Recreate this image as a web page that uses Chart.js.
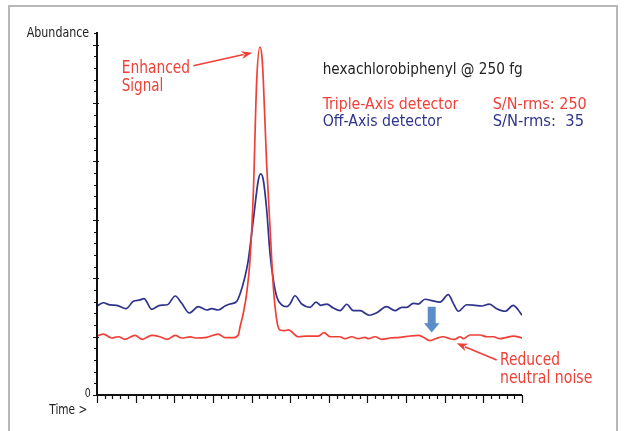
<!DOCTYPE html>
<html>
<head>
<meta charset="utf-8">
<script src="https://cdn.jsdelivr.net/npm/chart.js@4"></script>
<style>
  html, body { margin: 0; padding: 0; background: #fff; }
  canvas { display: block; }
</style>
</head>
<body>
<canvas id="chart" width="627" height="431"></canvas>
<script>
// Chromatogram data (time in minor tick units, abundance in y tick units)
const redTime = [0,0.82,1.90,2.76,3.62,4.92,5.86,7.08,8.15,9.10,10.13,10.96,12.04,12.90,14.20,15.70,16.57,17.64,18.29,18.51,18.93,19.37,19.80,20.23,20.67,21.09,21.35,21.52,21.96,22.39,22.82,23.26,23.68,24.33,24.76,26.05,27.14,28.64,29.38,30.15,31.45,32.10,32.96,33.82,34.69,35.11,35.98,36.85,37.92,39.21,40.51,41.58,42.23,43.10,43.96,44.82,45.68,46.33,46.98,47.40,48.27,49.57,50.43,51.29,52.15,53.02,53.88,54.74,55];
const redAbundance = [5.05,5.22,4.88,4.99,4.77,5.11,4.77,5.11,4.99,4.77,5.11,4.88,4.97,4.88,4.94,5.22,4.91,4.91,5.14,5.82,7.00,8.71,11.56,17.27,26.98,29.80,28.95,26.98,19.70,14.39,9.25,6.42,5.57,5.51,5.57,4.99,5.05,5.05,5.34,4.99,4.99,4.82,4.99,4.82,4.94,4.82,4.99,4.77,4.88,4.94,5.05,5.11,4.94,4.65,4.86,4.99,4.82,4.77,4.99,4.82,5.14,5.14,4.99,4.99,4.82,4.94,5.05,4.94,4.88];

const blueTime = [0,0.82,1.68,2.55,3.75,4.70,5.56,6.08,7.08,8.15,9.10,10.13,10.96,11.95,13.11,14.20,14.84,15.70,16.57,17.21,18.08,18.51,19.15,19.58,20.23,20.88,21.19,21.52,21.96,22.39,22.82,23.26,23.90,24.55,24.98,25.62,26.49,27.57,28.34,28.95,29.73,30.58,31.45,32.32,33.17,34.04,35.24,36.20,37.49,38.57,39.43,40.08,40.93,41.58,42.45,43.32,44.39,45.46,46.11,46.76,47.85,48.92,49.79,50.77,51.73,52.80,53.88,54.52,55];
const blueAbundance = [7.62,7.90,7.71,7.68,7.39,8.02,8.14,8.25,7.34,7.68,7.73,8.48,7.85,7.02,7.56,7.28,7.39,7.28,7.62,7.79,8.02,8.65,10.13,11.56,14.99,18.41,18.93,18.41,15.84,12.13,9.85,8.42,7.71,7.56,7.79,8.50,7.79,7.51,7.96,7.68,7.79,7.45,7.22,7.77,7.22,7.22,6.83,7.05,7.56,7.22,7.51,7.51,7.85,7.79,8.20,8.08,7.96,8.59,7.85,7.17,7.73,7.68,7.62,7.79,7.39,7.17,7.68,7.28,6.83];

const seriesNames = ['Triple-Axis detector', 'Off-Axis detector'];
const snLabels = ['S/N-rms: 250', 'S/N-rms:  35'];
const yTickLabels = ['0'];
const title = 'hexachlorobiphenyl @ 250 fg';

const RED = '#ef4038';
const BLUE = '#2e348c';
const FONT = '"Liberation Sans Narrow", "DejaVu Sans Condensed", "Liberation Sans", sans-serif';

// draw text stretched to a target width
function fitText(ctx, text, x, y, width, size, color) {
  ctx.save();
  ctx.font = size + 'px ' + FONT;
  ctx.fillStyle = color;
  ctx.textBaseline = 'alphabetic';
  ctx.textAlign = 'left';
  const w = ctx.measureText(text).width;
  ctx.translate(x, y);
  ctx.scale(width / w, 1);
  ctx.fillText(text, 0, 0);
  ctx.restore();
}

function arrow(ctx, x1, y1, x2, y2, color) {
  const a = Math.atan2(y2 - y1, x2 - x1);
  const len = 11, half = 4;
  ctx.save();
  ctx.strokeStyle = color;
  ctx.fillStyle = color;
  ctx.lineWidth = 1.6;
  ctx.beginPath();
  ctx.moveTo(x1, y1);
  ctx.lineTo(x2 - Math.cos(a) * len * 0.8, y2 - Math.sin(a) * len * 0.8);
  ctx.stroke();
  ctx.beginPath();
  ctx.moveTo(x2, y2);
  ctx.lineTo(x2 - Math.cos(a) * len - Math.sin(a) * half, y2 - Math.sin(a) * len + Math.cos(a) * half);
  ctx.lineTo(x2 - Math.cos(a) * len * 0.7, y2 - Math.sin(a) * len * 0.7);
  ctx.lineTo(x2 - Math.cos(a) * len + Math.sin(a) * half, y2 - Math.sin(a) * len - Math.cos(a) * half);
  ctx.closePath();
  ctx.fill();
  ctx.restore();
}

const decor = {
  id: 'decor',
  beforeDraw(chart) {
    const ctx = chart.ctx;
    ctx.save();
    ctx.fillStyle = '#fff';
    ctx.fillRect(0, 0, chart.width, chart.height);
    ctx.strokeStyle = '#b8b8b8';
    ctx.lineWidth = 2;
    ctx.strokeRect(9, 6, 608, 440);
    ctx.restore();
  },
  afterDatasetsDraw(chart) {
    const ctx = chart.ctx;
    const xs = chart.scales.x, ys = chart.scales.y;
    const x0 = xs.getPixelForValue(0), x1 = xs.getPixelForValue(55);
    const y0 = ys.getPixelForValue(0), y1 = ys.getPixelForValue(31);
    ctx.save();
    ctx.strokeStyle = '#111';
    ctx.lineWidth = 2;
    ctx.beginPath();
    ctx.moveTo(x0, y1 - 1);
    ctx.lineTo(x0, y0);
    ctx.lineTo(x1, y0);
    ctx.stroke();
    ctx.lineWidth = 1.2;
    ctx.beginPath();
    for (let i = 0; i <= 31; i++) {
      const y = Math.round(ys.getPixelForValue(i)) + 0.5;
      const major = i % 5 === 0;
      ctx.moveTo(x0 - (major ? 4 : 3), y);
      ctx.lineTo(x0 + (major ? 2 : 0), y);
    }
    for (let i = 0; i <= 55; i++) {
      const x = Math.round(xs.getPixelForValue(i)) + 0.5;
      const major = i % 5 === 0;
      ctx.moveTo(x, y0);
      ctx.lineTo(x, y0 + (major ? 8 : 4));
    }
    ctx.stroke();
    ctx.restore();

    // axis labels
    fitText(ctx, 'Abundance', 26.7, 37, 62.5, 13.5, '#222');
    fitText(ctx, yTickLabels[0], 84.8, 397, 6, 13, '#222');
    fitText(ctx, 'Time >', 49.3, 414, 38, 14, '#222');

    // title and legend
    fitText(ctx, title, 322.7, 73.5, 200, 16.5, '#222');
    fitText(ctx, seriesNames[0], 322.7, 109.3, 135.6, 16, RED);
    fitText(ctx, snLabels[0], 492.7, 109.3, 94, 16, RED);
    fitText(ctx, seriesNames[1], 322.7, 126, 119, 16, BLUE);
    fitText(ctx, snLabels[1], 492.7, 126, 91.3, 16, BLUE);

    // annotations
    fitText(ctx, 'Enhanced', 121.7, 73.3, 68.3, 16.8, RED);
    fitText(ctx, 'Signal', 121.7, 90.7, 41.6, 16.8, RED);
    arrow(ctx, 193.3, 65.7, 252.3, 52.7, RED);
    fitText(ctx, 'Reduced', 500, 365, 60, 16.8, RED);
    fitText(ctx, 'neutral noise', 500, 382.7, 92.3, 16.8, RED);
    arrow(ctx, 496.7, 360, 456.7, 343.3, RED);

    // blue down arrow
    ctx.save();
    ctx.fillStyle = '#5b8ec8';
    ctx.beginPath();
    ctx.moveTo(427.7, 306.7);
    ctx.lineTo(435.7, 306.7);
    ctx.lineTo(435.7, 323.3);
    ctx.lineTo(439.5, 323.3);
    ctx.lineTo(431.7, 332.5);
    ctx.lineTo(424, 323.3);
    ctx.lineTo(427.7, 323.3);
    ctx.closePath();
    ctx.fill();
    ctx.restore();
  }
};

new Chart(document.getElementById('chart'), {
  type: 'line',
  data: {
    datasets: [{
      label: seriesNames[0],
      data: redTime.map((t, i) => ({ x: t, y: redAbundance[i] })),
      borderColor: RED,
      borderWidth: 1.7,
      pointRadius: 0,
      cubicInterpolationMode: 'monotone'
    }, {
      label: seriesNames[1],
      data: blueTime.map((t, i) => ({ x: t, y: blueAbundance[i] })),
      borderColor: BLUE,
      borderWidth: 1.7,
      pointRadius: 0,
      cubicInterpolationMode: 'monotone'
    }]
  },
  options: {
    responsive: false,
    animation: false,
    devicePixelRatio: 1,
    layout: { padding: { left: 97, right: 105, top: 33, bottom: 36 } },
    plugins: { legend: { display: false }, tooltip: { enabled: false } },
    scales: {
      x: { type: 'linear', min: 0, max: 55, display: false },
      y: { type: 'linear', min: 0, max: 31, display: false }
    }
  },
  plugins: [decor]
});
</script>
</body>
</html>
